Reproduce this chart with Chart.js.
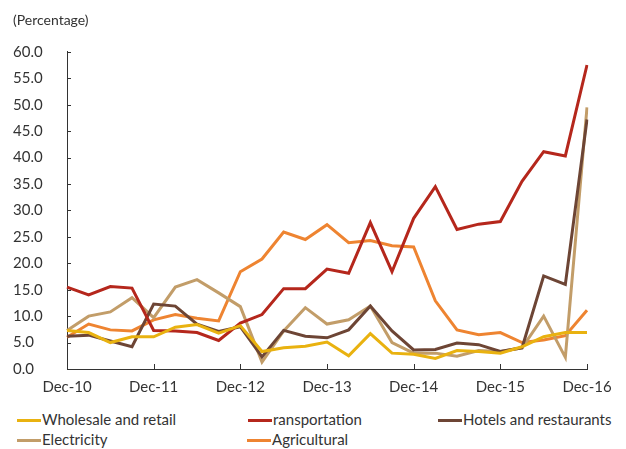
<!DOCTYPE html>
<html>
<head>
<meta charset="utf-8">
<script src="https://cdn.jsdelivr.net/npm/chart.js@4.4.1/dist/chart.umd.min.js"></script>
<style>
  body { margin: 0; background: #fff; font-family: Lato, sans-serif; }
  #wrap { position: relative; width: 626px; height: 449px; }
  #chartBox { position: absolute; left: 0; top: 0; width: 626px; height: 400px; }
  .leg { position: absolute; font-size: 15px; color: #333; white-space: nowrap; line-height: 18px; }
  .leg span.sw { display: inline-block; width: 24px; height: 3px; vertical-align: middle; margin-right: 1px; position: relative; top: -1px; }
</style>
</head>
<body>
<div id="wrap">
  <div id="chartBox"><canvas id="lineChart"></canvas></div>
  <div id="legend"></div>
</div>
<script>
// kuartalan, Dec-10 s/d Dec-16
const quarters = ['Dec-10','Mar-11','Jun-11','Sep-11','Dec-11','Mar-12','Jun-12','Sep-12','Dec-12',
                  'Mar-13','Jun-13','Sep-13','Dec-13','Mar-14','Jun-14','Sep-14','Dec-14',
                  'Mar-15','Jun-15','Sep-15','Dec-15','Mar-16','Jun-16','Sep-16','Dec-16'];

const wholesale = [7.3,6.9,5.0,6.1,6.1,7.9,8.4,6.8,8.2,3.3,4.0,4.3,5.1,2.5,6.7,3.0,2.8,2.0,3.5,3.3,3.0,4.2,6.1,6.9,6.9];
const transport = [15.5,14.0,15.6,15.3,7.3,7.2,6.9,5.4,8.7,10.3,15.2,15.2,18.9,18.1,27.7,18.4,28.5,34.5,26.4,27.4,27.9,35.5,41.1,40.3,57.5];
const hotels = [6.2,6.4,5.3,4.2,12.3,11.9,8.5,7.1,8.0,2.3,7.3,6.2,5.9,7.4,11.9,7.2,3.6,3.7,4.9,4.6,3.3,4.0,17.6,16.0,47.2];
const electricity = [7.3,10.0,10.8,13.5,9.7,15.5,16.9,14.4,11.8,1.3,7.2,11.6,8.5,9.3,11.9,5.0,3.0,3.0,2.4,3.5,3.3,4.0,10.0,2.2,49.5];
const agricultural = [6.0,8.5,7.4,7.2,9.3,10.3,9.6,9.1,18.4,20.8,25.9,24.5,27.3,23.9,24.3,23.3,23.1,12.9,7.4,6.5,6.9,5.0,5.5,6.3,11.1];

const seriesNames = ['Wholesale and retail','ransportation','Hotels and restaurants','Electricity','Agricultural'];
const seriesColors = ['#E9B210','#B5271C','#6D4535','#C29D69','#EE8431'];
const seriesData = [wholesale, transport, hotels, electricity, agricultural];

// posisi legend (manual, dua baris)
const legendPos = [[17,410],[248,410],[438,410],[17,430],[247,430]];

const yTicks = [0,5,10,15,20,25,30,35,40,45,50,55,60];

document.addEventListener('DOMContentLoaded', function () {
    // tick kecil ke dalam area chart
    const innerTicks = {
        id: 'innerTicks',
        afterDraw(chart) {
            const c = chart.ctx;
            const x = chart.scales.x, y = chart.scales.y;
            c.save();
            c.strokeStyle = '#333';
            c.lineWidth = 1;
            c.beginPath();
            yTicks.forEach(function (v) {
                const py = Math.round(y.getPixelForValue(v)) + 0.5;
                c.moveTo(x.left, py);
                c.lineTo(x.left + 4, py);
            });
            quarters.forEach(function (q, i) {
                if (i % 4 !== 0) return;
                const px = Math.round(x.getPixelForValue(i)) + 0.5;
                c.moveTo(px, y.bottom);
                c.lineTo(px, y.bottom - 5);
            });
            c.stroke();
            c.restore();
        }
    };

    let ctx = document.getElementById('lineChart').getContext('2d');
    new Chart(ctx, {
        type: 'line',
        data: {
            labels: quarters,
            datasets: seriesData.map(function (d, i) {
                return {
                    label: seriesNames[i],
                    data: d,
                    borderColor: seriesColors[i],
                    backgroundColor: seriesColors[i],
                    borderWidth: 3,
                    pointRadius: 0,
                    tension: 0,
                    fill: false
                };
            })
        },
        options: {
            responsive: true,
            maintainAspectRatio: false,
            animation: false,
            layout: { padding: { left: 13, right: 39, top: 0, bottom: 0 } },
            plugins: {
                legend: { display: false },
                tooltip: { enabled: false },
                title: {
                    display: true,
                    text: '(Percentage)',
                    align: 'start',
                    color: '#333',
                    font: { family: 'Lato', size: 14, weight: 'normal' },
                    padding: { top: 12, bottom: 23 }
                }
            },
            scales: {
                x: {
                    grid: { display: false, drawTicks: false },
                    border: { display: true, color: '#333', width: 1 },
                    ticks: {
                        autoSkip: false,
                        maxRotation: 0,
                        padding: 9,
                        color: '#333',
                        font: { family: 'Lato', size: 15 },
                        callback: function (v, i) { return i % 4 === 0 ? quarters[i] : ''; }
                    },
                    afterFit: function (s) { s.height = 31; }
                },
                y: {
                    min: 0,
                    max: 60,
                    grid: { display: false, drawTicks: false },
                    border: { display: true, color: '#333', width: 1 },
                    ticks: {
                        stepSize: 5,
                        crossAlign: 'far',
                        color: '#333',
                        font: { family: 'Lato', size: 15 },
                        callback: function (v) { return v.toFixed(1); }
                    },
                    afterFit: function (s) { s.width = 54; }
                }
            }
        },
        plugins: [innerTicks]
    });

    // legend HTML
    const leg = document.getElementById('legend');
    seriesNames.forEach(function (n, i) {
        const el = document.createElement('div');
        el.className = 'leg';
        el.style.left = legendPos[i][0] + 'px';
        el.style.top = legendPos[i][1] + 'px';
        el.innerHTML = '<span class="sw" style="background:' + seriesColors[i] + '"></span>' + n;
        leg.appendChild(el);
    });
});
</script>
</body>
</html>
